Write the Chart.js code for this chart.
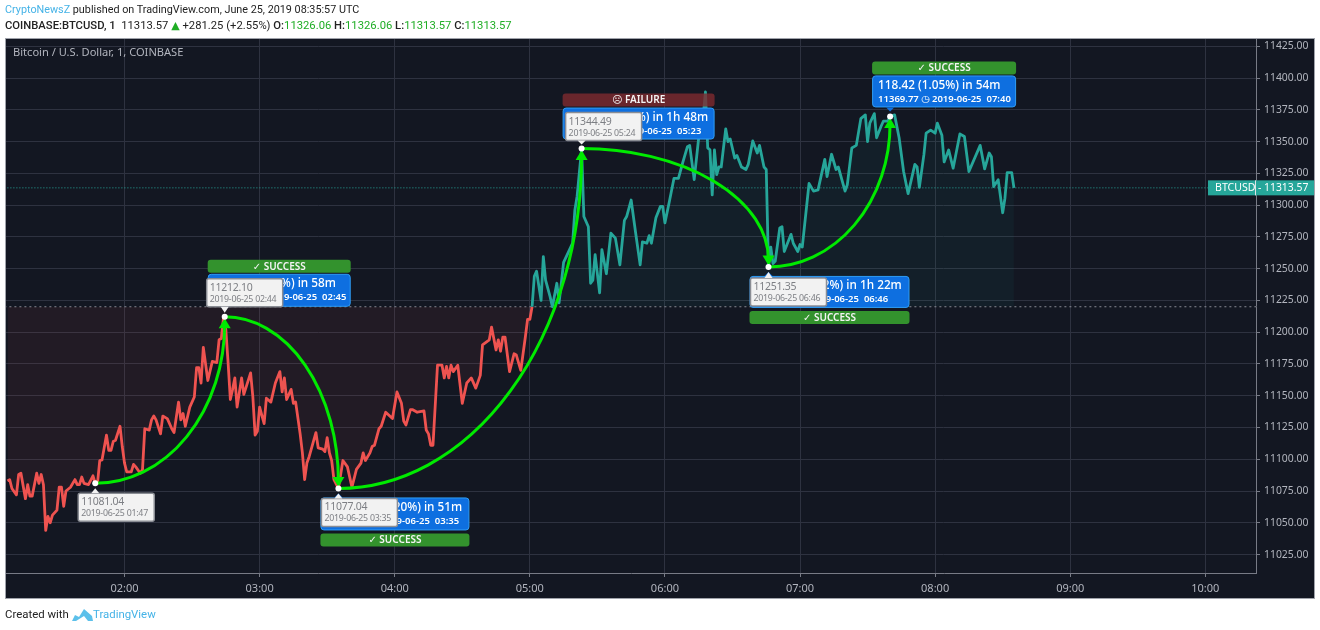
<!DOCTYPE html>
<html>
<head>
<meta charset="utf-8">
<title>BTCUSD</title>
<script src="https://cdn.jsdelivr.net/npm/chart.js@4"></script>
<style>
    html, body { margin: 0; padding: 0; background: #fff; }
    body { width: 1320px; height: 630px; overflow: hidden; position: relative; font-family: Roboto, "Noto Sans", sans-serif; color: #222; }
    #wrap { position: absolute; left: 0; top: 0; width: 1320px; height: 630px; }
    .row { position: absolute; left: 5px; font-size: 11.4px; line-height: 16px; white-space: pre; }
    .blue { color: #45b3e7; }
    .up { color: #1fad25; }
    .tri { font-family: "DejaVu Sans"; font-size: 11px; line-height: 10px; }
    b { font-weight: 500; }
</style>
</head>
<body>
<div id="wrap"><canvas id="chart" width="1320" height="630"></canvas></div>
<div class="row" style="top:2px;font-size:10.8px"><span class="blue">CryptoNewsZ</span> published on TradingView.com, June 25, 2019 08:35:57 UTC</div>
<div class="row" style="top:18px;font-size:11.25px"><b>COINBASE:BTCUSD, 1</b>  11313.57 <span class="up tri">▲</span> +281.25 (+2.55%) <b>O:</b><span class="up">11326.06</span> <b>H:</b><span class="up">11326.06</span> <b>L:</b><span class="up">11313.57</span> <b>C:</b><span class="up">11313.57</span></div>
<div class="row" style="top:606px">Created with</div>
<svg style="position:absolute;left:72px;top:607px" width="21" height="15" viewBox="0 0 21 15"><path d="M0 14 L3 8 L7 10 L12 2 L20 9 L21 14 Z M4 14 L12 9 L16 14 Z" fill="#5cc0ea" fill-rule="evenodd"/></svg>
<div class="row blue" style="top:606px;left:93px">TradingView</div>
<script>
// minutes after midnight (UTC)
const minutes = [
    68, 69, 70, 72, 73, 74, 76, 77, 78, 79, 81, 82, 83, 84, 85, 86, 87, 88, 90, 91, 92, 93, 94, 96, 98, 99, 100, 101, 102, 104, 106, 107, 108,
    109, 110, 112, 113, 114, 115, 116, 118, 119, 120, 121, 123, 124, 125, 127, 128, 129, 131, 132, 133, 134, 136, 137, 139, 141, 142, 144, 145,
    146, 147, 149, 151, 152, 153, 154, 155, 156, 157, 159, 161, 162, 163, 164, 165, 166, 167, 168, 169, 170, 172, 173, 176, 177, 178, 179, 180,
    182, 183, 185, 187, 189, 190, 191, 192, 194, 195, 196, 198, 199, 200, 201, 202, 205, 206, 208, 209, 210, 211, 212, 213, 215, 217, 219, 221,
    223, 225, 226, 227, 229, 230, 231, 233, 234, 236, 239, 241, 243, 244, 245, 247, 248, 250, 253, 254, 255, 256, 257, 259, 261, 262, 263, 264,
    265, 266, 268, 270, 272, 274, 276, 278, 279, 282, 283, 285, 286, 287, 288, 289, 291, 293, 294, 296, 298, 299, 300, 301, 302, 303, 305, 306,
    307, 309, 310, 312, 313, 315, 319, 320, 321, 323, 324, 326, 327, 328, 329, 331, 332, 334, 336, 338, 340, 342, 343, 345, 347, 349, 350, 352,
    353, 354, 356, 358, 359, 360, 362, 364, 366, 368, 370, 371, 373, 375, 377, 378, 379, 380, 381, 382, 383, 384, 385, 387, 388, 389, 391, 392,
    394, 396, 397, 399, 401, 402, 404, 405, 406, 407, 408, 409, 411, 412, 413, 416, 417, 419, 420, 421, 424, 426, 428, 431, 432, 434, 436, 437,
    440, 441, 443, 445, 447, 449, 450, 451, 453, 454, 456, 457, 459, 460, 462, 464, 466, 468, 471, 472, 473, 475, 476, 478, 480, 481, 483, 484,
    486, 488, 491, 493, 495, 500, 502, 504, 505, 506, 508, 510, 511, 512, 514, 515
];
const prices = [
    11083, 11084, 11077, 11072, 11088, 11089, 11069, 11080, 11071, 11071, 11089, 11081, 11088, 11080, 11044, 11055, 11050, 11056, 11060, 11078, 11078, 11063, 11075, 11078, 11084, 11080, 11080, 11086, 11081, 11080, 11087, 11081.04, 11081,
    11099, 11099.5, 11119, 11107, 11107, 11114, 11115, 11126, 11110, 11097, 11090, 11090, 11096, 11094, 11089, 11092, 11124, 11123, 11131, 11134, 11131, 11120, 11134, 11132, 11124, 11121, 11145, 11131,
    11136, 11126, 11141, 11149, 11172, 11172, 11160, 11188, 11175, 11162, 11177, 11176, 11194, 11195, 11212.1, 11202, 11176, 11147, 11155, 11164, 11141, 11164, 11151, 11168, 11149, 11119, 11122, 11141,
    11128, 11148, 11145, 11160, 11169, 11153, 11164, 11147, 11155, 11144, 11145, 11120, 11105, 11084, 11097, 11102, 11121, 11109, 11108, 11106, 11117, 11105, 11099, 11084, 11077.04, 11099, 11094, 11078,
    11092, 11097, 11105, 11099, 11105, 11110, 11111, 11124, 11126, 11137, 11132, 11153, 11144, 11130, 11127, 11139, 11139, 11137, 11138, 11123, 11120, 11111, 11111, 11174, 11174, 11164, 11173, 11164,
    11174, 11169, 11174, 11144, 11160, 11164, 11156, 11166, 11190, 11194, 11204, 11186, 11194, 11185, 11196, 11196, 11169, 11183, 11182, 11170, 11196, 11210, 11210, 11220, 11244, 11248, 11225, 11259.5,
    11241, 11228, 11220, 11238.5, 11223, 11255, 11270, 11296, 11307, 11344.49, 11291, 11283, 11238.5, 11241, 11261, 11231, 11265, 11246, 11278, 11274, 11253, 11288, 11291, 11304, 11278, 11253, 11271, 11270,
    11276, 11270, 11290, 11299, 11299, 11286, 11303, 11321, 11321, 11334, 11346, 11347, 11320, 11353, 11370, 11389, 11345, 11343.5, 11308, 11343.5, 11324, 11330, 11330, 11360, 11350, 11352, 11337, 11339,
    11330, 11328, 11332, 11350.5, 11341, 11347, 11330, 11328, 11251.35, 11267, 11254, 11256, 11282, 11283, 11263.5, 11277, 11270, 11263.5, 11269, 11267, 11317, 11311, 11312, 11336, 11322.5, 11340, 11328, 11330,
    11311, 11316, 11345, 11347, 11368, 11371, 11350, 11364.5, 11372, 11353, 11362, 11366, 11366, 11369.77, 11371, 11353, 11326.4, 11309, 11332, 11330, 11314, 11339.5, 11356.6, 11359, 11356.6, 11364.5, 11355, 11334,
    11343.4, 11329, 11356, 11354, 11326.4, 11347, 11328.5, 11341, 11338, 11314.6, 11320, 11294, 11305.4, 11325.6, 11325.6, 11313.57
];

const hourTicks = [120, 180, 240, 300, 360, 420, 480, 540, 600];
const hourLabels = ['02:00', '03:00', '04:00', '05:00', '06:00', '07:00', '08:00', '09:00', '10:00'];
const priceTicks = [11025, 11050, 11075, 11100, 11125, 11150, 11175, 11200, 11225, 11250, 11275, 11300, 11325, 11350, 11375, 11400, 11425];

const basePrice = 11220;
const lastPrice = 11313.57;

// the swing points of the drawing on top of the line
const swingMinutes = [107, 164.5, 215, 323, 406, 460];
const swingPrices = [11081.04, 11212.10, 11077.04, 11344.49, 11251.35, 11369.77];
const swingTimes = ['2019-06-25 01:47', '2019-06-25 02:44', '2019-06-25 03:35', '2019-06-25 05:24', '2019-06-25 06:46', '2019-06-25 07:40'];

// one per move between swing points
const moveText = ['131.06 (1.18%) in 58m', '−135.06 (−1.20%) in 51m', '267.45 (2.41%) in 1h 48m', '−93.14 (−0.82%) in 1h 22m', '118.42 (1.05%) in 54m'];
const moveEnd = ['11212.10 ◷ 2019-06-25  02:45', '11077.04 ◷ 2019-06-25  03:35', '11344.42 ◷ 2019-06-25  05:23', '11251.35 ◷ 2019-06-25  06:46', '11369.77 ◷ 2019-06-25  07:40'];
const moveStatus = ['✓ SUCCESS', '✓ SUCCESS', '☹ FAILURE', '✓ SUCCESS', '✓ SUCCESS'];

const TEAL = '#26a69a';
const RED = '#ef5350';
const GREEN = '#00ea00';
const FONT = '"Noto Sans", "DejaVu Sans", sans-serif';

// where the boxes sit around their swing point: dx from point to left edge, dy from point to top
const blueBoxes = [
    { dx: -17, dy: -43, w: 143, h: 33 },
    { dx: -18, dy: 9, w: 149, h: 33 },
    { dx: -19, dy: -41, w: 152, h: 32 },
    { dx: -19, dy: 9, w: 160, h: 32 },
    { dx: -18, dy: -41, w: 144, h: 32 }
];
const grayBoxes = [
    { dx: -17, dy: 10, above: false },
    { dx: -18, dy: -38, above: true },
    { dx: -17, dy: 10, above: false },
    { dx: -16, dy: -36, above: true },
    { dx: -18, dy: 11, above: false }
];

function roundBox(ctx, x, y, w, h, r) {
    ctx.beginPath();
    ctx.roundRect(x, y, w, h, r);
}

function arrowHead(ctx, x, y, dir) {
    ctx.beginPath();
    ctx.moveTo(x, y);
    ctx.lineTo(x - 6, y + dir * 10);
    ctx.lineTo(x + 6, y + dir * 10);
    ctx.closePath();
    ctx.fill();
}

const framePlugin = {
    id: 'frame',
    beforeDraw(chart) {
        const ctx = chart.ctx;
        ctx.save();
        ctx.fillStyle = '#131722';
        ctx.fillRect(5.5, 38.5, 1309, 560);
        ctx.strokeStyle = '#a0a3ab';
        ctx.lineWidth = 1;
        ctx.strokeRect(5.5, 38.5, 1309, 560);
        ctx.restore();
    },
    afterDraw(chart) {
        const ctx = chart.ctx;
        const y = chart.scales.y.getPixelForValue(lastPrice);
        ctx.save();
        ctx.fillStyle = '#b2b5be';
        ctx.font = '11.1px ' + FONT;
        ctx.textBaseline = 'middle';
        ctx.fillText('Bitcoin / U.S. Dollar, 1, COINBASE', 13, 52.5);
        // last price tag on the axis
        ctx.fillStyle = TEAL;
        ctx.fillRect(1208, y - 7.5, 106, 15);
        ctx.fillStyle = '#dfe3e6';
        ctx.fillRect(1255, y - 7.5, 1, 15);
        ctx.fillStyle = '#fff';
        ctx.font = '10.6px ' + FONT;
        ctx.fillText('BTCUSD', 1215, y + 0.5);
        ctx.fillText('-', 1258, y + 0.5);
        ctx.font = '10.4px ' + FONT;
        ctx.fillText(lastPrice.toFixed(2), 1264, y + 0.5);
        ctx.restore();
    }
};

const drawingPlugin = {
    id: 'drawing',
    afterDatasetsDraw(chart) {
        const ctx = chart.ctx;
        const xs = swingMinutes.map(m => chart.scales.x.getPixelForValue(m));
        const ys = swingPrices.map(p => chart.scales.y.getPixelForValue(p));
        ctx.save();

        // blue result boxes and their status strips
        moveText.forEach((txt, i) => {
            const b = blueBoxes[i];
            const px = xs[i + 1], py = ys[i + 1];
            const x = px + b.dx, y = py + b.dy;
            const below = b.dy > 0;

            ctx.globalAlpha = moveStatus[i].includes('FAILURE') ? 0.8 : 1;
            ctx.fillStyle = moveStatus[i].includes('FAILURE') ? '#7f2b30' : '#33922d';
            roundBox(ctx, x, below ? y + b.h + 3 : y - 14, b.w, 13, 3);
            ctx.fill();
            ctx.globalAlpha = 1;
            ctx.fillStyle = '#f4f4f4';
            ctx.font = '600 10px ' + FONT;
            ctx.textAlign = 'center';
            ctx.textBaseline = 'middle';
            ctx.fillText(moveStatus[i], x + b.w / 2, (below ? y + b.h + 3 : y - 14) + 7);

            ctx.fillStyle = '#0e6fe0';
            ctx.strokeStyle = '#2f9df5';
            ctx.lineWidth = 1;
            roundBox(ctx, x + 0.5, y + 0.5, b.w - 1, b.h - 1, 3);
            ctx.fill();
            ctx.stroke();
            ctx.beginPath();
            ctx.moveTo(px - 4, below ? y : y + b.h);
            ctx.lineTo(px, below ? y - 4 : y + b.h + 4);
            ctx.lineTo(px + 4, below ? y : y + b.h);
            ctx.closePath();
            ctx.fill();

            ctx.fillStyle = '#fff';
            ctx.textAlign = 'left';
            ctx.font = '500 11.8px ' + FONT;
            ctx.fillText(txt, x + 6, y + 10);
            ctx.font = '600 9.5px ' + FONT;
            ctx.fillText(moveEnd[i], x + 6, y + 23.5);
        });

        // green arcs, each a quarter ellipse leaving flat and arriving upright
        ctx.strokeStyle = GREEN;
        ctx.fillStyle = GREEN;
        ctx.lineWidth = 3;
        for (let i = 0; i < xs.length - 1; i++) {
            const up = ys[i + 1] < ys[i];
            const dir = up ? 1 : -1;
            const endY = ys[i + 1] + dir * 7;
            ctx.beginPath();
            ctx.ellipse(xs[i], endY, Math.abs(xs[i + 1] - xs[i]), Math.abs(endY - ys[i]), 0, up ? Math.PI / 2 : -Math.PI / 2, 0, up);
            ctx.stroke();
            arrowHead(ctx, xs[i + 1], ys[i + 1] + dir * 1.5, dir);
        }

        // gray price callouts
        ctx.textAlign = 'left';
        ctx.textBaseline = 'middle';
        grayBoxes.forEach((b, i) => {
            const px = xs[i], py = ys[i];
            const x = px + b.dx, y = py + b.dy;
            ctx.fillStyle = '#f2f2f2';
            ctx.strokeStyle = '#8a8d94';
            ctx.lineWidth = 1.5;
            roundBox(ctx, x, y, 76, 28, 2);
            ctx.fill();
            ctx.stroke();
            ctx.beginPath();
            const edge = b.above ? y + 28 : y;
            const tip = b.above ? py - 4 : py + 5;
            ctx.moveTo(px - 4, edge);
            ctx.lineTo(px, tip);
            ctx.lineTo(px + 4, edge);
            ctx.closePath();
            ctx.fill();
            ctx.fillStyle = '#7d7f84';
            ctx.font = '10.5px ' + FONT;
            ctx.letterSpacing = '-0.25px';
            ctx.fillText(swingPrices[i].toFixed(2), x + 3, y + 9);
            ctx.font = '8.8px ' + FONT;
            ctx.fillText(swingTimes[i], x + 3, y + 20.5);
            ctx.letterSpacing = '0px';
        });

        // white dots on the swing points
        ctx.fillStyle = '#fff';
        xs.forEach((x, i) => {
            ctx.beginPath();
            ctx.arc(x, ys[i], 3, 0, Math.PI * 2);
            ctx.fill();
        });
        ctx.restore();
    }
};

new Chart(document.getElementById('chart').getContext('2d'), {
    type: 'line',
    data: {
        datasets: [
            {
                data: minutes.map((m, i) => ({ x: m, y: prices[i] })),
                borderWidth: 2.8,
                pointRadius: 0,
                tension: 0,
                borderJoinStyle: 'round',
                fill: { target: { value: basePrice }, above: 'rgba(38,166,154,0.06)', below: 'rgba(239,83,80,0.07)' },
                segment: {
                    borderColor: c => (c.p0.parsed.y + c.p1.parsed.y) / 2 >= basePrice ? TEAL : RED
                }
            },
            {
                // baseline
                data: [{ x: 60, y: basePrice }, { x: 640, y: basePrice }],
                borderColor: '#8a8d96',
                borderWidth: 1,
                borderDash: [2, 3],
                pointRadius: 0
            },
            {
                // last price
                data: [{ x: 60, y: lastPrice }, { x: 640, y: lastPrice }],
                borderColor: TEAL,
                borderWidth: 1,
                borderDash: [1, 2],
                pointRadius: 0
            }
        ]
    },
    options: {
        responsive: false,
        animation: false,
        events: [],
        layout: { padding: { left: 6, top: 39, right: 6, bottom: 32 } },
        plugins: { legend: { display: false }, tooltip: { enabled: false }, title: { display: false } },
        scales: {
            x: {
                type: 'linear',
                min: 67.37,
                max: 622.5,
                afterBuildTicks: s => { s.ticks = hourTicks.map(v => ({ value: v })); },
                afterFit: s => { s.height = 25; },
                grid: { color: '#2e3240', tickColor: '#787b86', tickLength: 4 },
                border: { color: '#787b86' },
                ticks: {
                    color: '#b2b5be',
                    maxRotation: 0,
                    autoSkip: false,
                    padding: 5,
                    font: { family: FONT, size: 11 },
                    callback: v => hourLabels[hourTicks.indexOf(v)]
                }
            },
            y: {
                position: 'right',
                min: 11010.5,
                max: 11430.7,
                afterBuildTicks: s => { s.ticks = priceTicks.map(v => ({ value: v })); },
                afterFit: s => { s.width = 58; },
                grid: { color: '#2e3240', tickColor: '#787b86', tickLength: 4 },
                border: { color: '#787b86' },
                ticks: {
                    color: '#b2b5be',
                    autoSkip: false,
                    padding: 4,
                    font: { family: FONT, size: 10.4 },
                    callback: v => v.toFixed(2)
                }
            }
        }
    },
    plugins: [framePlugin, drawingPlugin]
});
</script>
</body>
</html>
